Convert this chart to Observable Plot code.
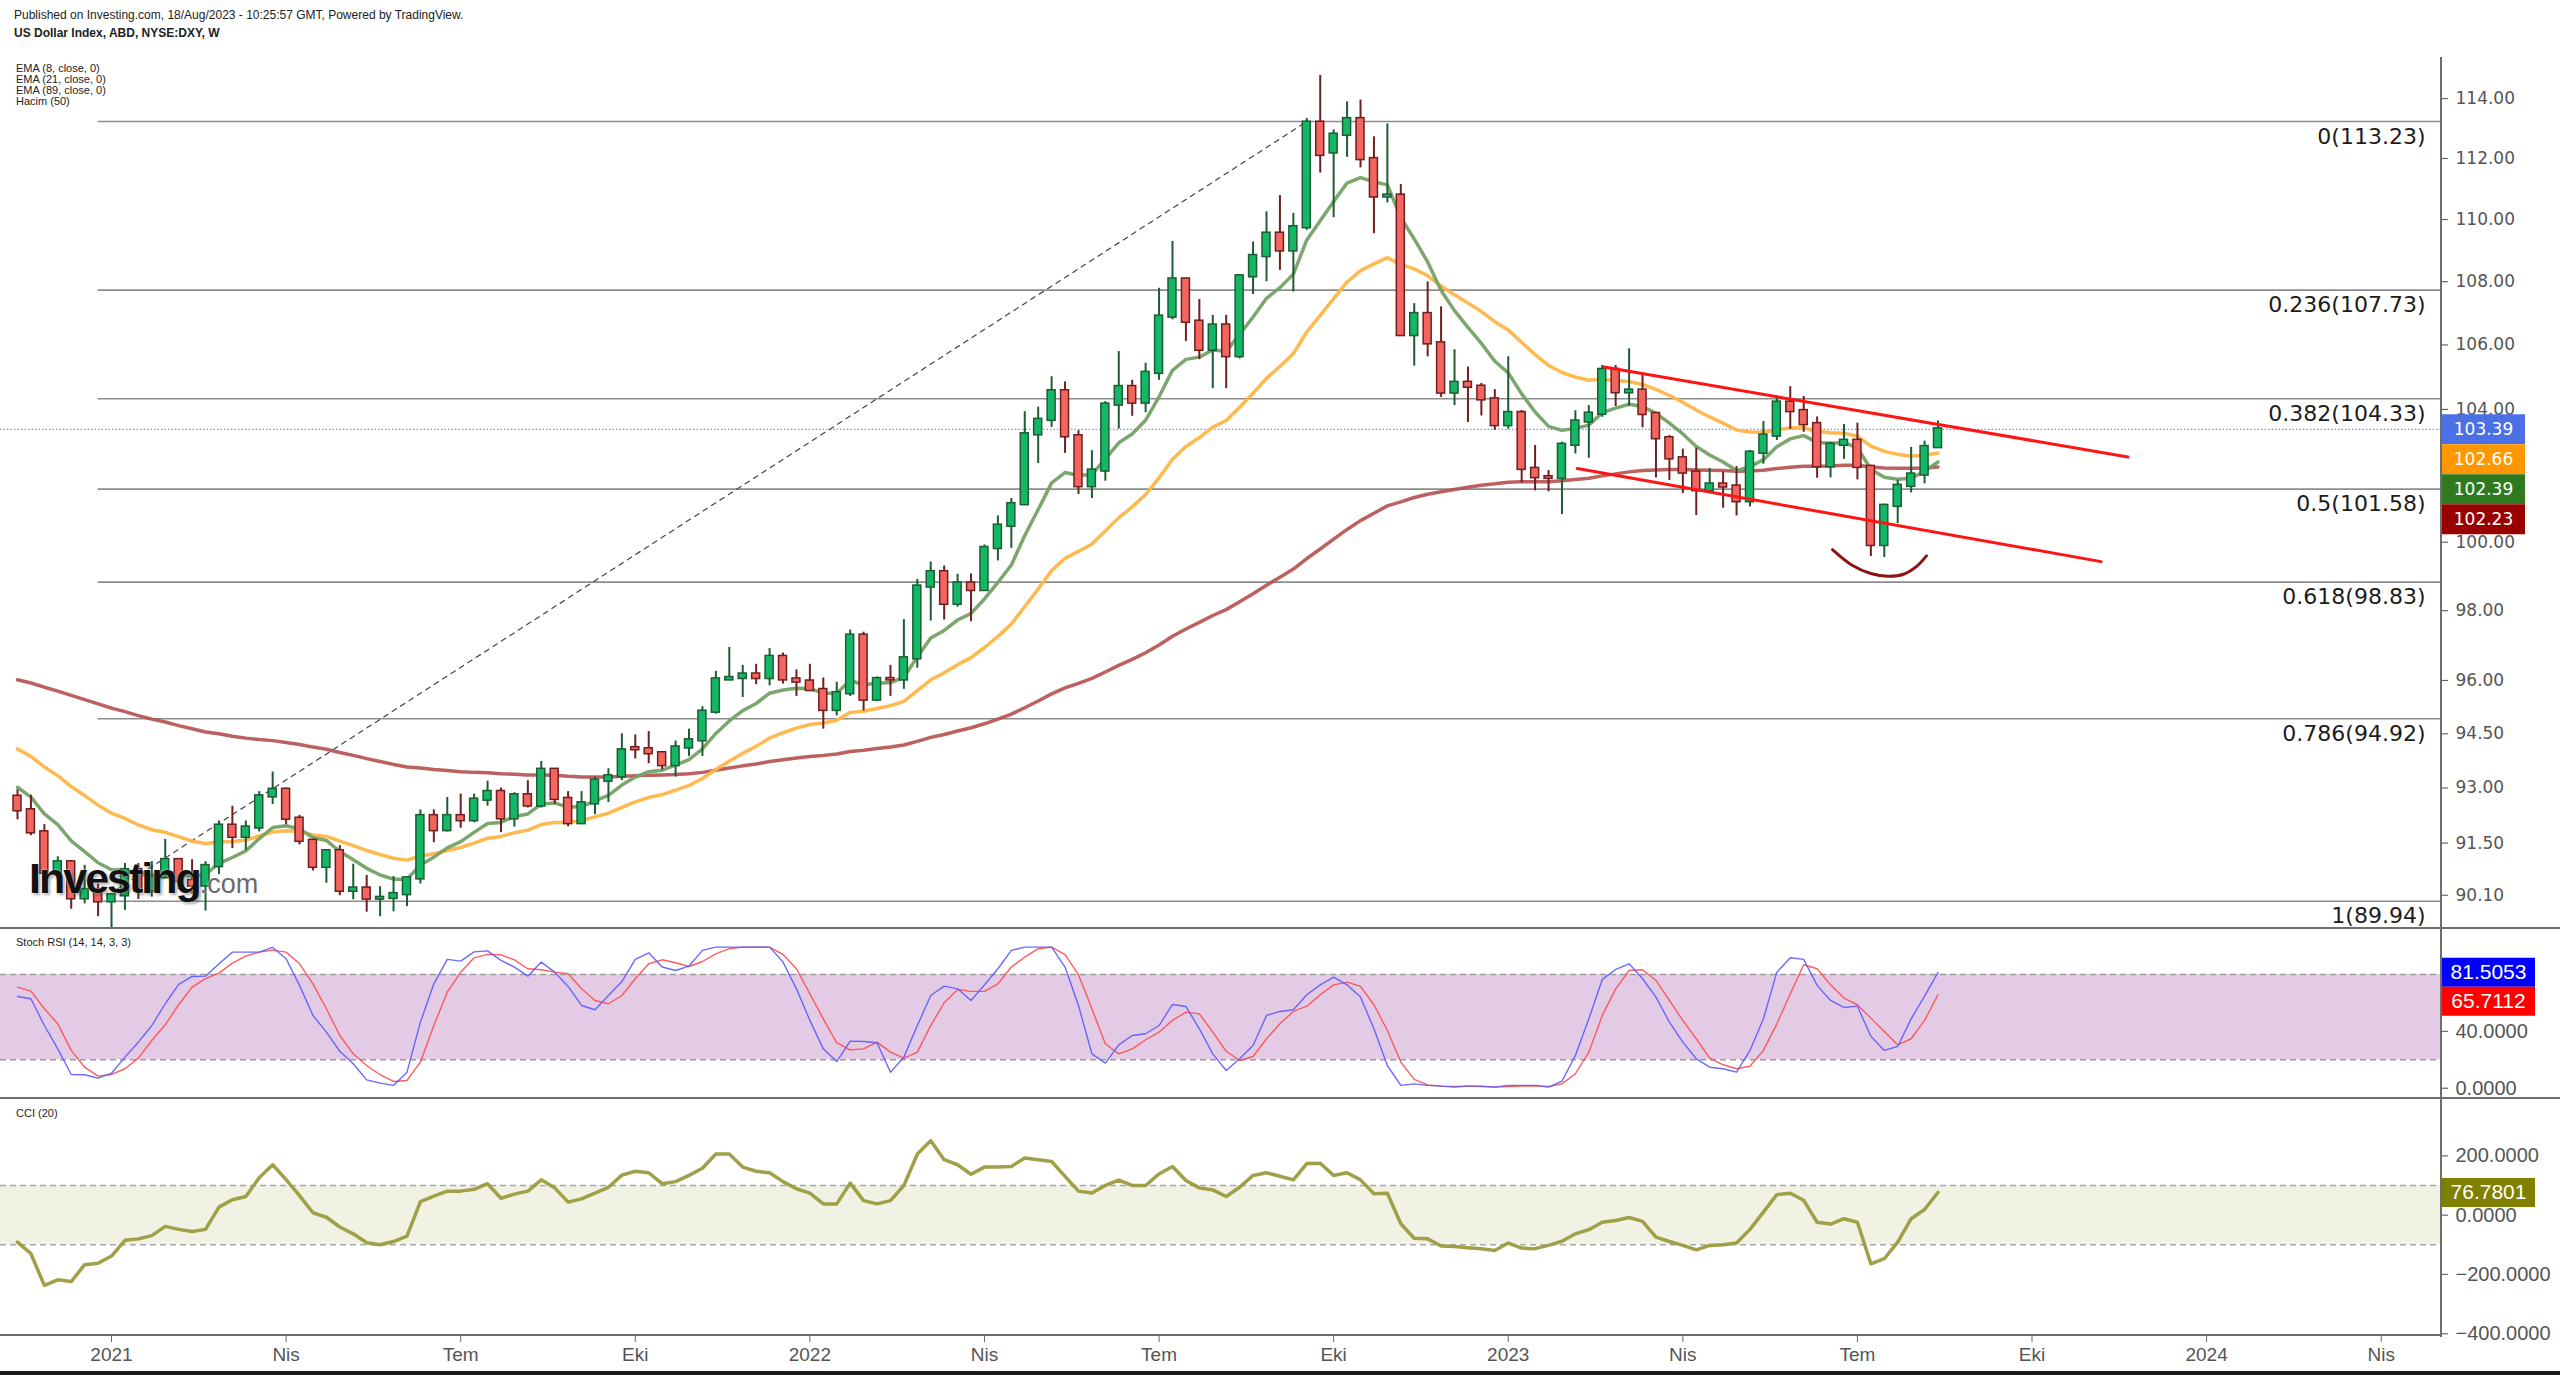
<!DOCTYPE html>
<html><head><meta charset="utf-8">
<script src="https://cdn.jsdelivr.net/npm/d3@7"></script>
<script src="https://cdn.jsdelivr.net/npm/@observablehq/plot@0.6"></script>
<style>
html,body{margin:0;padding:0;background:#fff;}
#wrap{position:relative;width:2560px;height:1375px;overflow:hidden;background:#fff;font-family:"Liberation Sans",Arial,sans-serif;}
.pane{position:absolute;left:0;}
.pane svg{display:block;background:transparent;}
.ln{position:absolute;background:#6e6e6e;}
.txt{position:absolute;left:14px;color:#222;white-space:nowrap;line-height:1;}
</style></head>
<body><div id="wrap">
<div class="pane" id="main" style="top:0"></div>
<div class="pane" id="stoch" style="top:928px"></div>
<div class="pane" id="cci" style="top:1098px"></div>
<div class="ln" style="left:0;top:927px;width:2560px;height:2px"></div>
<div class="ln" style="left:0;top:1097px;width:2560px;height:2px"></div>
<div class="ln" style="left:0;top:1334px;width:2442px;height:2px"></div>
<div class="ln" style="left:2440px;top:57px;width:2px;height:1280px"></div>
<div style="position:absolute;left:0;top:1371px;width:2560px;height:4px;background:#1a1a1a"></div>
<div class="txt" style="top:9px;font-size:12px">Published on Investing.com, 18/Aug/2023 - 10:25:57 GMT, Powered by TradingView.</div>
<div class="txt" style="top:27px;font-size:12px;font-weight:bold">US Dollar Index, ABD, NYSE:DXY, W</div>
<div class="txt" style="top:63px;font-size:11px;left:16px">EMA (8, close, 0)</div>
<div class="txt" style="top:74px;font-size:11px;left:16px">EMA (21, close, 0)</div>
<div class="txt" style="top:85px;font-size:11px;left:16px">EMA (89, close, 0)</div>
<div class="txt" style="top:96px;font-size:11px;left:16px">Hacim (50)</div>
<div class="txt" style="top:937px;font-size:11px;left:16px">Stoch RSI (14, 14, 3, 3)</div>
<div class="txt" style="top:1108px;font-size:11px;left:16px">CCI (20)</div>
<div style="position:absolute;left:29px;top:857px;white-space:nowrap;line-height:1;font-family:'Liberation Sans',Arial,sans-serif;">
<span style="font-size:43px;font-weight:bold;letter-spacing:-2px;color:#111;text-shadow:0 0 2px #fff,2px 2px 3px rgba(0,0,0,0.35)">Investing</span><span style="font-size:27px;color:#6a6a6a;text-shadow:0 0 2px #fff">.com</span>
</div>
</div>
<script>
// ---------------- DATA ----------------
const weeks = [
"2020-11-16","2020-11-23","2020-11-30","2020-12-07","2020-12-14","2020-12-21","2020-12-28",
"2021-01-04","2021-01-11","2021-01-18","2021-01-25","2021-02-01","2021-02-08","2021-02-15","2021-02-22","2021-03-01","2021-03-08","2021-03-15","2021-03-22","2021-03-29",
"2021-04-05","2021-04-12","2021-04-19","2021-04-26","2021-05-03","2021-05-10","2021-05-17","2021-05-24","2021-05-31","2021-06-07","2021-06-14","2021-06-21","2021-06-28",
"2021-07-05","2021-07-12","2021-07-19","2021-07-26","2021-08-02","2021-08-09","2021-08-16","2021-08-23","2021-08-30","2021-09-06","2021-09-13","2021-09-20","2021-09-27",
"2021-10-04","2021-10-11","2021-10-18","2021-10-25","2021-11-01","2021-11-08","2021-11-15","2021-11-22","2021-11-29","2021-12-06","2021-12-13","2021-12-20","2021-12-27",
"2022-01-03","2022-01-10","2022-01-17","2022-01-24","2022-01-31","2022-02-07","2022-02-14","2022-02-21","2022-02-28","2022-03-07","2022-03-14","2022-03-21","2022-03-28",
"2022-04-04","2022-04-11","2022-04-18","2022-04-25","2022-05-02","2022-05-09","2022-05-16","2022-05-23","2022-05-30","2022-06-06","2022-06-13","2022-06-20","2022-06-27",
"2022-07-04","2022-07-11","2022-07-18","2022-07-25","2022-08-01","2022-08-08","2022-08-15","2022-08-22","2022-08-29","2022-09-05","2022-09-12","2022-09-19","2022-09-26",
"2022-10-03","2022-10-10","2022-10-17","2022-10-24","2022-10-31","2022-11-07","2022-11-14","2022-11-21","2022-11-28","2022-12-05","2022-12-12","2022-12-19","2022-12-26",
"2023-01-02","2023-01-09","2023-01-16","2023-01-23","2023-01-30","2023-02-06","2023-02-13","2023-02-20","2023-02-27","2023-03-06","2023-03-13","2023-03-20","2023-03-27",
"2023-04-03","2023-04-10","2023-04-17","2023-04-24","2023-05-01","2023-05-08","2023-05-15","2023-05-22","2023-05-29","2023-06-05","2023-06-12","2023-06-19","2023-06-26",
"2023-07-03","2023-07-10","2023-07-17","2023-07-24","2023-07-31","2023-08-07","2023-08-14"];

const open = [
92.76,92.39,91.79,90.70,90.98,90.02,90.24,89.94,90.10,90.77,
90.23,90.58,91.04,90.48,90.36,90.88,91.97,91.67,91.92,92.77,
92.95,92.16,91.56,90.86,91.28,90.22,90.28,90.01,90.03,90.13,
90.55,92.23,91.85,92.23,92.12,92.68,92.89,92.17,92.80,92.52,
93.50,92.70,92.04,92.58,93.20,93.32,94.10,94.07,93.96,93.63,
94.12,94.32,95.12,96.03,96.07,96.17,96.07,96.67,96.03,95.97,
95.73,95.17,95.64,97.28,95.46,96.04,96.03,96.63,98.70,99.12,
98.20,98.79,98.60,99.83,100.49,101.13,103.24,103.68,104.56,103.18,
101.67,102.14,104.15,104.69,104.21,105.13,106.89,108.07,106.73,105.85,
106.61,105.65,108.17,108.82,109.54,109.00,109.75,113.19,112.20,112.79,
113.31,111.98,110.75,110.78,106.31,106.97,106.05,104.52,104.82,104.70,
104.31,103.52,103.89,102.19,101.94,101.92,102.92,103.63,103.87,105.22,
104.53,104.58,103.86,103.12,102.51,102.08,101.55,101.72,101.66,101.22,
102.68,103.20,104.21,103.95,103.55,102.27,102.92,103.04,102.25,99.92,
101.08,101.68,102.02,102.85];

const high = [
92.95,92.80,92.00,91.13,91.03,90.90,90.40,90.12,90.95,90.95,
91.00,91.60,91.05,91.05,91.00,92.10,92.50,92.10,92.90,93.44,
93.00,92.25,91.60,91.30,91.43,90.93,90.63,90.33,90.60,90.60,
92.40,92.40,92.74,92.83,92.83,93.19,93.00,92.87,93.20,93.73,
93.50,92.90,92.90,93.30,93.53,94.50,94.47,94.56,94.00,94.30,
94.63,95.26,96.26,96.94,96.43,96.46,96.91,96.78,96.30,96.46,
96.07,95.95,97.44,97.38,96.10,96.43,97.74,98.91,99.42,99.30,
99.06,99.07,99.92,100.78,101.30,103.93,104.07,105.01,104.85,103.35,
102.74,104.24,105.79,104.90,105.43,107.79,109.29,108.10,107.43,106.93,
106.93,108.20,109.27,110.25,110.78,110.20,113.33,114.78,112.95,113.89,
113.95,112.72,113.15,111.14,107.30,107.99,107.20,105.85,105.31,104.80,
104.61,105.63,103.97,102.90,102.14,103.00,103.96,104.12,105.36,105.36,
105.88,105.11,103.91,103.20,102.79,102.82,102.20,102.10,102.26,102.75,
103.63,104.38,104.70,104.40,103.77,103.00,103.54,103.58,102.30,101.13,
101.85,102.84,103.03,103.65];

const low = [
92.13,91.70,90.50,90.42,89.73,89.87,89.53,89.21,89.70,89.99,
90.05,90.55,90.25,90.13,89.68,90.65,91.35,91.30,91.80,92.55,
92.00,91.45,90.75,90.42,90.09,89.98,89.65,89.53,89.66,89.80,
90.40,91.51,91.80,91.90,92.05,92.50,91.78,91.93,92.45,92.45,
92.55,91.94,92.00,92.27,92.60,93.20,93.80,93.67,93.50,93.30,
93.87,93.87,95.05,96.00,95.52,95.88,95.85,95.90,95.55,95.70,
94.63,95.00,95.55,95.14,95.40,95.55,95.75,96.35,97.70,97.73,
98.10,97.68,98.60,99.45,99.82,101.13,102.35,103.45,102.66,101.42,
101.30,101.82,103.40,103.79,103.90,104.90,106.79,106.11,105.54,104.64,
104.64,105.56,107.59,108.00,108.36,107.67,109.65,111.52,110.06,112.04,
111.69,109.54,110.54,106.27,105.34,105.63,104.37,104.12,103.60,103.80,
103.36,103.40,101.77,101.53,101.50,100.82,102.64,102.51,103.76,104.09,
104.10,103.44,101.92,101.84,101.45,100.79,101.50,101.01,100.78,101.05,
102.33,103.05,103.39,103.30,101.91,101.92,102.48,101.86,99.58,99.55,
100.55,101.47,101.74,102.83];

const close = [
92.39,91.79,90.70,90.98,90.02,90.24,89.94,90.10,90.77,90.23,
90.58,91.04,90.48,90.36,90.88,91.97,91.67,91.92,92.77,92.95,
92.16,91.56,90.86,91.28,90.22,90.28,90.01,90.03,90.13,90.55,
92.23,91.85,92.23,92.12,92.68,92.89,92.17,92.80,92.52,93.50,
92.70,92.04,92.58,93.20,93.32,94.04,94.07,93.96,93.63,94.12,
94.32,95.12,96.03,96.07,96.17,96.07,96.67,96.03,95.97,95.73,
95.17,95.64,97.28,95.46,96.04,96.03,96.63,98.70,99.12,98.20,
98.79,98.60,99.83,100.49,101.13,103.24,103.68,104.56,103.18,101.67,
102.14,104.15,104.69,104.21,105.13,106.89,108.07,106.73,105.85,106.61,
105.65,108.17,108.82,109.54,109.00,109.75,113.19,112.12,112.79,113.31,
111.98,110.75,110.78,106.31,106.97,106.05,104.52,104.82,104.70,104.31,
103.52,103.89,102.19,101.94,101.92,102.92,103.63,103.87,105.22,104.53,
104.58,103.86,103.12,102.51,102.08,101.55,101.72,101.66,101.22,102.68,
103.20,104.21,103.95,103.55,102.27,102.92,103.04,102.25,99.92,101.08,
101.68,102.02,102.85,103.39];

const ema8 = [
93.02,92.75,92.29,92.00,91.56,91.27,90.97,90.78,90.78,90.66,
90.64,90.73,90.67,90.60,90.66,90.95,91.11,91.29,91.62,91.92,
91.97,91.88,91.65,91.57,91.27,91.05,90.82,90.64,90.53,90.53,
90.91,91.12,91.37,91.54,91.79,92.03,92.06,92.22,92.29,92.56,
92.59,92.47,92.49,92.65,92.80,93.08,93.30,93.45,93.49,93.63,
93.78,94.08,94.51,94.86,95.15,95.35,95.64,95.73,95.78,95.77,
95.64,95.64,96.00,95.88,95.92,95.94,96.09,96.67,97.21,97.43,
97.73,97.92,98.34,98.82,99.33,100.20,100.97,101.77,102.08,101.99,
102.02,102.49,102.98,103.25,103.67,104.39,105.21,105.55,105.62,105.84,
105.80,106.33,106.88,107.47,107.81,108.24,109.34,109.96,110.59,111.19,
111.37,111.23,111.13,110.06,109.37,108.63,107.72,107.08,106.55,106.05,
105.49,105.13,104.48,103.92,103.48,103.36,103.42,103.52,103.90,104.04,
104.16,104.09,103.88,103.58,103.25,102.87,102.61,102.40,102.14,102.26,
102.47,102.86,103.10,103.20,102.99,102.97,102.99,102.83,102.18,101.94,
101.88,101.91,102.12,102.40];

const ema21 = [
94.08,93.87,93.58,93.34,93.04,92.79,92.53,92.31,92.17,91.99,
91.86,91.79,91.67,91.55,91.49,91.53,91.54,91.58,91.69,91.80,
91.83,91.81,91.72,91.68,91.55,91.43,91.30,91.19,91.09,91.04,
91.15,91.21,91.30,91.38,91.50,91.63,91.68,91.78,91.85,92.00,
92.06,92.06,92.11,92.21,92.31,92.47,92.62,92.74,92.82,92.94,
93.07,93.26,93.51,93.74,93.96,94.15,94.38,94.53,94.66,94.76,
94.80,94.88,95.10,95.13,95.21,95.29,95.41,95.71,96.02,96.22,
96.45,96.65,96.94,97.26,97.61,98.12,98.63,99.17,99.53,99.73,
99.95,100.33,100.73,101.05,101.42,101.92,102.48,102.87,103.14,103.46,
103.66,104.07,104.50,104.96,105.33,105.73,106.41,106.93,107.46,107.99,
108.35,108.57,108.77,108.55,108.41,108.19,107.86,107.58,107.32,107.05,
106.73,106.47,106.08,105.70,105.36,105.14,105.00,104.90,104.93,104.89,
104.86,104.77,104.62,104.43,104.22,103.98,103.77,103.58,103.37,103.31,
103.30,103.38,103.43,103.44,103.33,103.29,103.27,103.18,102.88,102.72,
102.63,102.57,102.60,102.67];

const ema89 = [
96.02,95.93,95.81,95.70,95.58,95.46,95.34,95.22,95.12,95.01,
94.91,94.83,94.73,94.64,94.55,94.50,94.43,94.38,94.34,94.31,
94.26,94.20,94.13,94.07,93.98,93.90,93.81,93.73,93.65,93.58,
93.55,93.51,93.48,93.45,93.43,93.42,93.39,93.38,93.36,93.36,
93.35,93.32,93.30,93.30,93.30,93.32,93.34,93.35,93.36,93.37,
93.39,93.43,93.49,93.55,93.61,93.66,93.73,93.78,93.83,93.87,
93.90,93.94,94.01,94.04,94.09,94.13,94.19,94.29,94.40,94.48,
94.58,94.67,94.78,94.91,95.05,95.23,95.42,95.62,95.79,95.92,
96.06,96.24,96.43,96.60,96.79,97.01,97.26,97.47,97.66,97.86,
98.03,98.26,98.49,98.74,98.97,99.21,99.52,99.80,100.09,100.38,
100.64,100.86,101.08,101.20,101.33,101.43,101.50,101.57,101.64,101.70,
101.74,101.79,101.80,101.80,101.80,101.83,101.87,101.91,101.98,102.04,
102.10,102.14,102.16,102.17,102.17,102.16,102.15,102.14,102.12,102.13,
102.15,102.20,102.24,102.27,102.27,102.28,102.30,102.30,102.25,102.22,
102.21,102.21,102.22,102.25];

const stochK = [
64.5,62.9,44.1,27.7,9.7,9.5,7.1,10.6,21.9,32.4,
44.1,59.4,73.0,78.6,78.8,87.5,95.7,95.7,95.7,99.0,
91.0,72.3,51.2,39.5,26.0,17.2,5.9,3.6,2.0,11.3,
46.5,73.4,90.6,89.4,95.9,96.6,89.9,85.2,78.8,88.7,
81.6,71.6,58.2,55.2,65.2,75.0,90.6,95.2,85.2,82.8,
85.9,96.9,99.2,99.2,99.2,99.2,99.2,88.7,69.9,47.7,
27.7,18.8,33.1,32.9,32.0,11.3,21.9,44.1,65.2,71.8,
69.9,61.7,72.7,84.0,96.9,99.2,99.2,99.2,85.2,58.2,
24.2,17.7,30.5,37.1,38.3,44.1,58.9,57.5,41.8,24.2,
12.5,20.7,30.1,51.2,54.0,55.2,65.7,72.7,78.1,72.7,
64.1,41.8,16.0,2.0,3.1,2.0,1.5,0.8,1.5,1.5,
0.8,2.0,2.0,2.0,0.8,5.0,23.0,48.8,76.5,83.5,
87.5,77.0,64.1,46.5,32.4,20.7,14.8,13.7,11.3,26.6,
48.8,81.6,91.7,90.6,72.3,61.7,56.8,57.7,36.6,26.6,
29.4,48.8,64.8,81.5];

const stochD = [
71.1,68.3,55.9,45.3,26.6,14.8,8.5,9.7,13.7,21.2,
33.6,44.6,58.7,71.1,77.0,80.9,88.0,92.9,95.7,97.1,
95.7,87.5,73.4,55.9,37.1,24.2,16.0,9.5,4.8,5.5,
18.4,44.1,67.6,81.6,91.7,94.1,93.8,90.3,84.0,83.3,
81.6,80.5,69.9,61.7,59.4,65.2,77.0,87.5,90.3,88.2,
85.6,89.1,94.5,98.1,99.2,99.2,99.2,94.0,84.0,66.4,
48.8,32.0,27.0,27.7,32.4,25.4,21.2,25.4,44.1,60.1,
69.5,68.1,68.1,73.4,85.2,92.2,98.1,99.2,94.0,79.8,
55.9,31.3,24.2,27.7,34.1,39.5,47.7,53.5,52.3,39.5,
26.0,19.5,22.3,34.8,45.3,54.0,57.7,65.7,72.7,74.6,
71.6,58.7,40.6,18.4,6.2,2.4,1.5,1.2,1.5,1.2,
0.8,1.2,1.5,1.5,1.2,3.1,10.2,25.4,51.2,69.9,
82.8,83.3,75.8,61.7,47.7,34.8,21.2,16.5,13.7,15.5,
26.6,45.3,66.4,86.8,84.0,72.7,63.4,58.7,49.3,39.9,
30.5,34.8,47.7,65.7];

const cci = [
-91,-130,-237,-218,-224,-167,-162,-138,-85,-80,
-69,-38,-48,-55,-48,27,52,63,126,170,
120,66,8,-7,-40,-63,-93,-100,-89,-71,
46,64,81,81,87,106,57,71,81,119,
92,44,55,74,94,135,148,143,106,113,
134,158,206,206,162,148,143,113,89,74,
38,38,108,49,38,49,100,206,251,187,
170,138,162,162,164,193,187,181,131,81,
75,100,118,100,100,139,164,117,92,85,
63,94,134,143,131,119,174,175,134,143,
119,72,74,-29,-78,-80,-104,-106,-110,-113,
-119,-94,-111,-113,-102,-88,-63,-49,-24,-18,
-8,-21,-74,-89,-102,-117,-102,-100,-94,-48,
10,69,74,50,-24,-30,-12,-24,-164,-147,
-91,-12,19,77];

// Fibonacci retracement (anchored from the 2020 close to the Sept 2022 top)
const fibRatios = ["0","0.236","0.382","0.5","0.618","0.786","1"];
const fibValues = [113.23,107.73,104.33,101.58,98.83,94.92,89.94];
const fibAnchorDates = ["2020-12-28","2022-09-19"];
const fibAnchorValues = [89.94,113.23];

// drawn channel lines and the arc
const upperTrendDates = ["2023-02-21","2023-11-21"];
const upperTrendValues = [105.31,102.55];
const lowerTrendDates = ["2023-02-07","2023-11-07"];
const lowerTrendValues = [102.20,99.43];
const arcDates = ["2023-06-20","2023-06-30","2023-07-10","2023-07-19","2023-07-27","2023-08-03","2023-08-08"];
const arcValues = [99.78,99.33,99.08,99.00,99.06,99.30,99.60];

// last value tags
const lastPrice = 103.39;
const mainTagValues = [103.39,102.66,102.39,102.23];
const mainTagColors = ["#4b6fe4","#ff9800","#2f7a1f","#990000"];
const stochTagValues = [81.5053,65.7112];
const stochTagColors = ["#0000ff","#ff0000"];
const cciTagValues = [76.7801];
const cciTagColors = ["#808000"];

// axes
const mainTicks = [90.10,91.50,93.00,94.50,96.00,98.00,100.00,104.00,106.00,108.00,110.00,112.00,114.00];
const stochTicks = [0,40];
const cciTicks = [-400,-200,0,200];
const xTickDates = ["2021-01-04","2021-04-05","2021-07-05","2021-10-04","2022-01-03","2022-04-04","2022-07-04","2022-10-03","2023-01-02","2023-04-03","2023-07-03","2023-10-02","2024-01-01","2024-04-01"];
const xTickLabels = ["2021","Nis","Tem","Eki","2022","Nis","Tem","Eki","2023","Nis","Tem","Eki","2024","Nis"];

// ---------------- BUILD ----------------
const D = s => new Date(s + "T00:00:00Z");
const W = 2560, MR = 119, RIGHT = W - MR;
const xStart = new Date(Date.UTC(2020,10,7,3,20));
const xEnd = new Date(Date.UTC(2024,4,2,10,20));
const xScale = Plot.scale({x: {type: "utc", domain: [xStart, xEnd], range: [0, RIGHT]}});
const mainBoxEnd = xScale.invert(RIGHT + 84);
const subBoxEnd = xScale.invert(RIGHT + 94);
const tickEnd = xScale.invert(RIGHT + 7);

const mainDomain = [89.22, 117.35];
const stochDomain = [-7.2, 112.3];
const cciDomain = [-405.9, 393.4];

function stackTags(vals, colors, scale, gap, digits) {
  let prev = -Infinity;
  return vals.map((v, i) => {
    const py = scale.apply(v);
    const sy = Math.max(py, prev + gap);
    prev = sy;
    return {v, ys: scale.invert(sy), color: colors[i], label: v.toFixed(digits)};
  });
}
// right-hand value axis drawn with rules + text through the y scale
function rightAxis(ticks, fmt, font, size) {
  return [
    Plot.ruleY(ticks, {y: d => d, x1: xEnd, x2: tickEnd, stroke: "#666", strokeWidth: 1.2}),
    Plot.text(ticks, {y: d => d, x: xEnd, dx: 14, text: d => fmt(d), textAnchor: "start", fill: "#555", fontSize: size, fontFamily: font})
  ];
}

const candles = weeks.map((w, i) => ({date: D(w), o: open[i], h: high[i], l: low[i], c: close[i], up: close[i] >= open[i]}));
const emaRows = weeks.map((w, i) => ({date: D(w), e8: ema8[i], e21: ema21[i], e89: ema89[i]}));
const oscRows = weeks.map((w, i) => ({date: D(w), k: stochK[i], d: stochD[i], cci: cci[i]}));
const fibRows = fibValues.map((v, i) => ({v, label: `${fibRatios[i]}(${v.toFixed(2)})`}));
const fibDiag = fibAnchorDates.map((d, i) => ({date: D(d), v: fibAnchorValues[i]}));
const upperTrend = upperTrendDates.map((d, i) => ({date: D(d), v: upperTrendValues[i]}));
const lowerTrend = lowerTrendDates.map((d, i) => ({date: D(d), v: lowerTrendValues[i]}));
const arc = arcDates.map((d, i) => ({date: D(d), v: arcValues[i]}));

const UPF = "#12b866", UPS = "#1e5c33", DNF = "#f3655e", DNS = "#6e1f1f";

// ---- main pane ----
const yMain = Plot.scale({y: {type: "log", domain: mainDomain, range: [928, 0]}});
const mainTags = stackTags(mainTagValues, mainTagColors, yMain, 30, 2);

const mainPlot = Plot.plot({
  width: W, height: 928, marginLeft: 0, marginRight: MR, marginTop: 0, marginBottom: 0,
  x: {type: "utc", domain: [xStart, xEnd], axis: null},
  y: {type: "log", domain: mainDomain, axis: null},
  color: {type: "identity"},
  style: {fontFamily: "DejaVu Sans", fontSize: "17px", color: "#555", background: "transparent", overflow: "visible"},
  marks: [
    Plot.ruleY(fibRows, {y: "v", x1: D(fibAnchorDates[0]), x2: xEnd, stroke: "#8c8c8c", strokeWidth: 1.6}),
    Plot.ruleY([lastPrice], {stroke: "#7f8ef2", strokeWidth: 1.2, strokeDasharray: "1.5,2"}),
    Plot.line(fibDiag, {x: "date", y: "v", stroke: "#444", strokeWidth: 1.2, strokeDasharray: "5,5"}),
    Plot.line(emaRows, {x: "date", y: "e89", stroke: "#b54f4f", strokeOpacity: 0.9, strokeWidth: 3.5}),
    Plot.line(emaRows, {x: "date", y: "e21", stroke: "#ffb546", strokeOpacity: 0.95, strokeWidth: 3.5}),
    Plot.line(emaRows, {x: "date", y: "e8", stroke: "#74a265", strokeOpacity: 0.95, strokeWidth: 3.5}),
    Plot.ruleX(candles, {x: "date", y1: "l", y2: "h", stroke: d => d.up ? UPS : DNS, strokeWidth: 2}),
    Plot.rect(candles, {
      x1: d => d3.utcHour.offset(d.date, -50), x2: d => d3.utcHour.offset(d.date, 50),
      y1: d => Math.min(d.o, d.c), y2: d => Math.max(d.o, d.c),
      insetTop: -1, insetBottom: -1,
      fill: d => d.up ? UPF : DNF, stroke: d => d.up ? UPS : DNS, strokeWidth: 1.5
    }),
    Plot.line(upperTrend, {x: "date", y: "v", stroke: "#ff1414", strokeWidth: 3}),
    Plot.line(lowerTrend, {x: "date", y: "v", stroke: "#ff1414", strokeWidth: 3}),
    Plot.line(arc, {x: "date", y: "v", stroke: "#8e1212", strokeWidth: 3, curve: "catmull-rom"}),
    Plot.text(fibRows, {y: "v", x: xEnd, text: "label", textAnchor: "end", dx: -16, dy: 15, fontSize: 22, fontFamily: "DejaVu Sans", fill: "#1c1c1c"}),
    ...rightAxis(mainTicks, d3.format(".2f"), "DejaVu Sans", 17),
    Plot.ruleY(mainTags, {y: "ys", x1: xEnd, x2: mainBoxEnd, stroke: "color", strokeWidth: 30}),
    Plot.text(mainTags, {y: "ys", x: xEnd, dx: 42, text: "label", fill: "#fff", fontSize: 17, fontFamily: "DejaVu Sans", textAnchor: "middle"})
  ]
});
document.getElementById("main").appendChild(mainPlot);

// ---- stoch RSI pane ----
const yStoch = Plot.scale({y: {domain: stochDomain, range: [170, 0]}});
const stochTags = stackTags(stochTagValues, stochTagColors, yStoch, 29, 4);
const stochPlot = Plot.plot({
  width: W, height: 170, marginLeft: 0, marginRight: MR, marginTop: 0, marginBottom: 0,
  x: {type: "utc", domain: [xStart, xEnd], axis: null},
  y: {domain: stochDomain, axis: null},
  color: {type: "identity"},
  style: {fontFamily: "Liberation Sans", fontSize: "20px", color: "#555", background: "transparent", overflow: "visible"},
  marks: [
    Plot.rect([0], {x1: xStart, x2: xEnd, y1: 20, y2: 80, fill: "#e3cbe6"}),
    Plot.ruleY([20, 80], {stroke: "#9c9c9c", strokeWidth: 1.5, strokeDasharray: "6,4"}),
    Plot.line(oscRows, {x: "date", y: "d", stroke: "#ff4b4b", strokeWidth: 1.4, strokeOpacity: 0.9}),
    Plot.line(oscRows, {x: "date", y: "k", stroke: "#5a5aff", strokeWidth: 1.4, strokeOpacity: 0.9}),
    ...rightAxis(stochTicks, d3.format(".4f"), "Liberation Sans", 20),
    Plot.ruleY(stochTags, {y: "ys", x1: xEnd, x2: subBoxEnd, stroke: "color", strokeWidth: 29}),
    Plot.text(stochTags, {y: "ys", x: xEnd, dx: 47, text: "label", fill: "#fff", fontSize: 21, fontFamily: "Liberation Sans", textAnchor: "middle"})
  ]
});
document.getElementById("stoch").appendChild(stochPlot);

// ---- CCI pane + time axis ----
const yCci = Plot.scale({y: {domain: cciDomain, range: [237, 0]}});
const cciTags = stackTags(cciTagValues, cciTagColors, yCci, 29, 4);
const tickMap = new Map(xTickDates.map((d, i) => [+D(d), xTickLabels[i]]));
const cciPlot = Plot.plot({
  width: W, height: 277, marginLeft: 0, marginRight: MR, marginTop: 0, marginBottom: 40,
  x: {type: "utc", domain: [xStart, xEnd]},
  y: {domain: cciDomain, axis: null},
  color: {type: "identity"},
  style: {fontFamily: "Liberation Sans", fontSize: "20px", color: "#555", background: "transparent", overflow: "visible"},
  marks: [
    Plot.rect([0], {x1: xStart, x2: xEnd, y1: -100, y2: 100, fill: "#f1f1e4"}),
    Plot.ruleY([-100, 100], {stroke: "#a8a8a8", strokeWidth: 1.5, strokeDasharray: "6,4"}),
    Plot.line(oscRows, {x: "date", y: "cci", stroke: "#9b9b3e", strokeWidth: 3.5, strokeOpacity: 0.95}),
    ...rightAxis(cciTicks, d3.format(".4f"), "Liberation Sans", 20),
    Plot.axisX({ticks: xTickDates.map(D), anchor: "bottom", tickSize: 7, tickPadding: 5, tickFormat: d => tickMap.get(+d), label: null, fontSize: 19, fontFamily: "Liberation Sans", fill: "#555", stroke: "#666"}),
    Plot.ruleY(cciTags, {y: "ys", x1: xEnd, x2: subBoxEnd, stroke: "color", strokeWidth: 29}),
    Plot.text(cciTags, {y: "ys", x: xEnd, dx: 47, text: "label", fill: "#fff", fontSize: 21, fontFamily: "Liberation Sans", textAnchor: "middle"})
  ]
});
document.getElementById("cci").appendChild(cciPlot);
</script>
</body></html>
